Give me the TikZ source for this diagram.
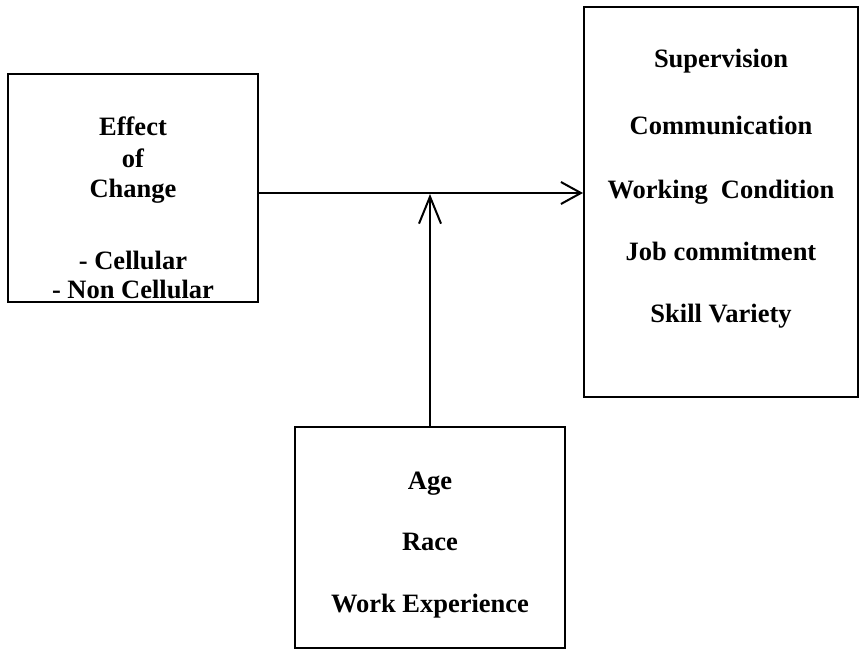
\documentclass[tikz,border=0pt]{standalone}
\usepackage{fontspec}
\setmainfont{Liberation Serif}
\usetikzlibrary{arrows.meta}
\begin{document}
\begin{tikzpicture}[x=1pt,y=-1pt,
  frame/.style={draw=black,line width=2pt,inner sep=0pt},
  word/.style={font=\fontsize{26.5}{30}\selectfont\bfseries,inner sep=0pt,anchor=base},
  link/.style={line width=2pt,-{Straight Barb[length=20pt,width=22pt,line width=2pt]}},
  uplink/.style={line width=2pt,-{Straight Barb[length=27pt,width=22pt,line width=2pt]}}]
  \useasboundingbox[fill=white] (0,0) rectangle (862,660);
  % boxes
  \node[frame,minimum width=250pt,minimum height=228pt] (cause) at (133,188) {};
  \node[frame,minimum width=274pt,minimum height=390pt] (out) at (721,202) {};
  \node[frame,minimum width=270pt,minimum height=221pt] (mod) at (430,537) {};
  % left box text (positions are baselines)
  \node[word] (t1) at (133,136) {Effect};
  \node[word] (t2) at (133,168) {of};
  \node[word] (t3) at (133,198) {Change};
  \node[word] (t4) at (133,270) {- Cellular};
  \node[word] (t5) at (133,299) {- Non Cellular};
  % right box text
  \node[word] (r1) at (721,68) {Supervision};
  \node[word] (r2) at (721,135) {Communication};
  \node[word] (r3) at (721,199) {Working\ \ Condition};
  \node[word] (r4) at (721,261) {Job commitment};
  \node[word] (r5) at (721,323) {Skill Variety};
  % bottom box text
  \node[word] (b1) at (430,489) {Age};
  \node[word] (b2) at (430,550) {Race};
  \node[word] (b3) at (430,612) {Work Experience};
  % connectors
  \coordinate (j) at (430,194);
  \draw[link] (cause.east |- 0,193) -- (out.west |- 0,193);
  \draw[uplink] (mod.north) -- (j);
\end{tikzpicture}
\end{document}
